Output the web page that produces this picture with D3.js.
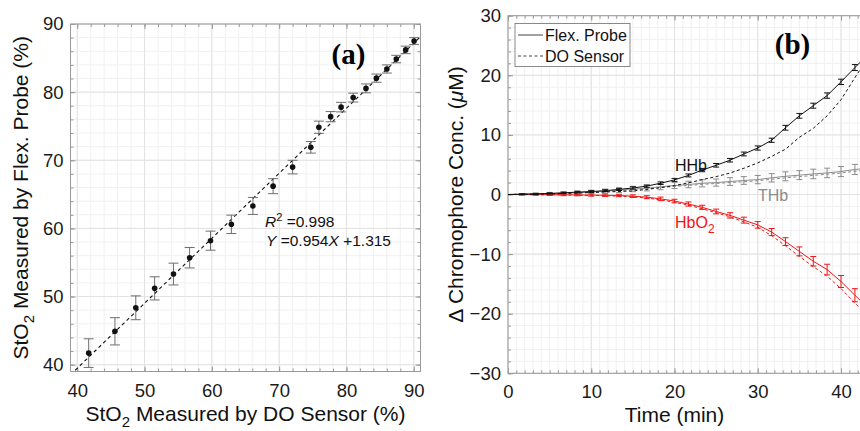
<!DOCTYPE html>
<html>
<head>
<meta charset="utf-8">
<script src="https://cdn.jsdelivr.net/npm/d3@7"></script>
<style>
  body { margin: 0; background: #fff; }
  svg { display: block; font-family: 'Liberation Sans', Arial, sans-serif; }
</style>
</head>
<body>
<script>
// ---- panel (a): StO2, probe vs sensor ----
var sto2Sensor = [41.7, 45.6, 48.7, 51.5, 54.3, 56.7, 59.8, 62.9, 66.1, 69.1, 72.0, 74.7, 75.9, 77.65, 79.2, 81.0, 82.9, 84.45, 86.0, 87.4, 88.8, 90.05];
var sto2Probe = [41.7, 44.9, 48.35, 51.2, 53.3, 55.7, 58.2, 60.6, 63.3, 66.2, 69.0, 71.9, 74.85, 76.4, 77.8, 79.2, 80.55, 82.05, 83.4, 84.85, 86.2, 87.5];
var sto2Err = [2.1, 2.0, 1.75, 1.7, 1.6, 1.5, 1.4, 1.35, 1.25, 1.1, 1.0, 0.85, 0.9, 0.75, 0.7, 0.65, 0.65, 0.6, 0.6, 0.55, 0.55, 0.5];
var fitSlope = 0.954, fitIntercept = 1.315;
var fitSpan = [39, 91];
var sto2Ticks = [40, 50, 60, 70, 80, 90];

// ---- panel (b): chromophore changes over time ----
var timeMin = [0, 1.67, 3.33, 5, 6.67, 8.33, 10, 11.67, 13.33, 15, 16.67, 18.33, 20, 21.67, 23.33, 25, 26.67, 28.33, 30, 31.67, 33.33, 35, 36.67, 38.33, 40, 41.67, 43.33];
var hhbProbe = [0, 0.05, 0.1, 0.18, 0.28, 0.4, 0.5, 0.65, 0.85, 1.1, 1.4, 1.9, 2.45, 3.2, 4.1, 4.9, 5.75, 6.8, 7.8, 9.1, 11.2, 13.2, 14.9, 16.6, 18.9, 21.3, 23.6];
var hhbErr = [0, 0.05, 0.08, 0.1, 0.1, 0.12, 0.15, 0.15, 0.18, 0.2, 0.2, 0.22, 0.25, 0.25, 0.28, 0.3, 0.3, 0.32, 0.35, 0.35, 0.4, 0.4, 0.42, 0.45, 0.45, 0.5, 0.5];
var hhbSensor = [0, 0.03, 0.07, 0.12, 0.18, 0.25, 0.33, 0.42, 0.5, 0.6, 0.85, 1.15, 1.5, 1.95, 2.5, 3.0, 3.6, 4.4, 5.3, 6.4, 7.6, 9.6, 11.1, 13.2, 15.9, 19.6, 23.2];
var thbProbe = [0, 0.05, 0.1, 0.15, 0.22, 0.3, 0.42, 0.57, 0.72, 0.92, 1.05, 1.3, 1.5, 1.68, 1.88, 2.0, 2.18, 2.35, 2.5, 2.8, 3.05, 3.25, 3.45, 3.62, 3.85, 4.2, 4.4];
var thbErr = [0, 0.1, 0.15, 0.2, 0.25, 0.3, 0.3, 0.35, 0.4, 0.45, 0.45, 0.5, 0.5, 0.55, 0.6, 0.6, 0.65, 0.65, 0.7, 0.7, 0.75, 0.75, 0.8, 0.8, 0.85, 0.85, 0.9];
var thbSensor = [0, 0.04, 0.08, 0.12, 0.18, 0.25, 0.35, 0.48, 0.62, 0.8, 0.95, 1.15, 1.35, 1.52, 1.7, 1.85, 2.0, 2.15, 2.3, 2.55, 2.8, 3.0, 3.2, 3.4, 3.6, 3.9, 4.1];
var hbo2Probe = [0, -0.01, -0.02, -0.03, -0.05, -0.07, -0.1, -0.13, -0.17, -0.28, -0.45, -0.73, -1.1, -1.6, -2.15, -2.85, -3.5, -4.3, -5.1, -6.3, -7.9, -9.55, -11.2, -12.6, -14.6, -16.9, -19.2];
var hbo2Err = [0, 0.1, 0.1, 0.12, 0.15, 0.15, 0.18, 0.2, 0.2, 0.22, 0.25, 0.3, 0.3, 0.35, 0.35, 0.4, 0.45, 0.5, 0.55, 0.6, 0.65, 0.75, 0.8, 0.9, 1.0, 1.1, 1.2];
var hbo2Sensor = [0, -0.02, -0.04, -0.06, -0.09, -0.12, -0.16, -0.21, -0.28, -0.4, -0.6, -0.9, -1.3, -1.8, -2.4, -3.05, -3.75, -4.6, -5.5, -6.9, -8.6, -10.4, -12.1, -13.7, -15.8, -18.2, -20.5];
var timeTicks = [0, 10, 20, 30, 40];
var concTicks = [-30, -20, -10, 0, 10, 20, 30];

var svgWidth = 860, svgHeight = 431;
var boxColor = '#9a9a9a', majorGrid = '#e2e2e2', minorGrid = '#f0f0f0';

var svg = d3.select('body')
    .append('svg')
    .attr('width', svgWidth)
    .attr('height', svgHeight);

// draws grid, inward ticks and the box for one panel
function drawFrame(g, x, y, minorX, minorY, xTicks, yTicks, fmt) {
    var x0 = x.range()[0], x1 = x.range()[1];
    var y0 = y.range()[0], y1 = y.range()[1];

    g.append('g').selectAll('line').data(minorX).enter().append('line')
        .attr('x1', d => x(d)).attr('x2', d => x(d)).attr('y1', y0).attr('y2', y1)
        .attr('stroke', minorGrid);
    g.append('g').selectAll('line').data(minorY).enter().append('line')
        .attr('y1', d => y(d)).attr('y2', d => y(d)).attr('x1', x0).attr('x2', x1)
        .attr('stroke', minorGrid);
    g.append('g').selectAll('line').data(xTicks).enter().append('line')
        .attr('x1', d => x(d)).attr('x2', d => x(d)).attr('y1', y0).attr('y2', y1)
        .attr('stroke', majorGrid);
    g.append('g').selectAll('line').data(yTicks).enter().append('line')
        .attr('y1', d => y(d)).attr('y2', d => y(d)).attr('x1', x0).attr('x2', x1)
        .attr('stroke', majorGrid);

    // minor + major ticks on all four sides, pointing in
    [[d3.axisBottom, y0], [d3.axisTop, y1]].forEach(function (s) {
        g.append('g').attr('class', 'ticks')
            .attr('transform', `translate(0, ${ s[1] })`)
            .call(s[0](x).tickValues(minorX).tickSize(-3).tickSizeOuter(0).tickFormat(''));
        g.append('g').attr('class', 'ticks')
            .attr('transform', `translate(0, ${ s[1] })`)
            .call(s[0](x).tickValues(xTicks).tickSize(-5).tickSizeOuter(0).tickFormat(''));
    });
    [[d3.axisLeft, x0], [d3.axisRight, x1]].forEach(function (s) {
        g.append('g').attr('class', 'ticks')
            .attr('transform', `translate(${ s[1] }, 0)`)
            .call(s[0](y).tickValues(minorY).tickSize(-3).tickSizeOuter(0).tickFormat(''));
        g.append('g').attr('class', 'ticks')
            .attr('transform', `translate(${ s[1] }, 0)`)
            .call(s[0](y).tickValues(yTicks).tickSize(-5).tickSizeOuter(0).tickFormat(''));
    });
    g.selectAll('.ticks .domain').remove();
    g.selectAll('.ticks line').attr('stroke', boxColor);

    // tick labels
    g.append('g').attr('class', 'lbl')
        .attr('transform', `translate(0, ${ y0 })`)
        .call(d3.axisBottom(x).tickValues(xTicks).tickSize(0).tickPadding(12).tickFormat(fmt));
    g.append('g').attr('class', 'lbl')
        .attr('transform', `translate(${ x0 }, 0)`)
        .call(d3.axisLeft(y).tickValues(yTicks).tickSize(0).tickPadding(7).tickFormat(fmt));
    g.selectAll('.lbl .domain').remove();
    g.selectAll('.lbl text')
        .attr('font-family', "'Liberation Sans', Arial, sans-serif")
        .attr('font-size', 18.5)
        .attr('fill', '#1a1a1a');

    g.append('rect')
        .attr('x', x0).attr('y', y1)
        .attr('width', x1 - x0).attr('height', y0 - y1)
        .attr('fill', 'none')
        .attr('stroke', boxColor);
}

var minusFmt = d => d < 0 ? '\u2212' + Math.abs(d) : String(d);

// ================= panel (a) =================
var xA = d3.scaleLinear().domain([39, 91]).range([70.5, 420.5]);
var yA = d3.scaleLinear().domain([39, 90]).range([371.5, 24]);
var gA = svg.append('g');

drawFrame(gA, xA, yA, d3.range(40, 91, 2), d3.range(40, 91, 2), sto2Ticks, sto2Ticks, minusFmt);

svg.append('clipPath').attr('id', 'clip-a')
    .append('rect').attr('x', 70.5).attr('y', 24).attr('width', 350).attr('height', 347.5);

gA.append('line')
    .attr('clip-path', 'url(#clip-a)')
    .attr('x1', xA(fitSpan[0])).attr('y1', yA(fitSlope * fitSpan[0] + fitIntercept))
    .attr('x2', xA(fitSpan[1])).attr('y2', yA(fitSlope * fitSpan[1] + fitIntercept))
    .attr('stroke', '#111')
    .attr('stroke-width', 1.1)
    .attr('stroke-dasharray', '3.5,3');

var ptsA = sto2Sensor.map((d, i) => [d, sto2Probe[i], sto2Err[i]]);
var barA = gA.append('g').selectAll('g').data(ptsA).enter().append('g')
    .attr('stroke', '#6e6e6e').attr('stroke-width', 1);
barA.append('line')
    .attr('x1', d => xA(d[0])).attr('x2', d => xA(d[0]))
    .attr('y1', d => yA(d[1] - d[2])).attr('y2', d => yA(d[1] + d[2]));
barA.append('line')
    .attr('x1', d => xA(d[0]) - 5).attr('x2', d => xA(d[0]) + 5)
    .attr('y1', d => yA(d[1] - d[2])).attr('y2', d => yA(d[1] - d[2]));
barA.append('line')
    .attr('x1', d => xA(d[0]) - 5).attr('x2', d => xA(d[0]) + 5)
    .attr('y1', d => yA(d[1] + d[2])).attr('y2', d => yA(d[1] + d[2]));

gA.append('g').selectAll('circle').data(ptsA).enter().append('circle')
    .attr('cx', d => xA(d[0]))
    .attr('cy', d => yA(d[1]))
    .attr('r', 2.8)
    .attr('fill', '#111');

// fit text
var fitText = gA.append('g').attr('font-size', 15.5).attr('fill', '#111');
var t1 = fitText.append('text').attr('x', 265).attr('y', 227);
t1.append('tspan').attr('font-style', 'italic').text('R');
t1.append('tspan').attr('dy', -6).attr('font-size', 11).text('2');
t1.append('tspan').attr('dy', 6).text(' =0.998');
var t2 = fitText.append('text').attr('x', 266).attr('y', 246);
t2.append('tspan').attr('font-style', 'italic').text('Y');
t2.append('tspan').text(' =0.954');
t2.append('tspan').attr('font-style', 'italic').text('X');
t2.append('tspan').text(' +1.315');

gA.append('text')
    .attr('x', 348.5).attr('y', 64)
    .attr('text-anchor', 'middle')
    .attr('font-family', "'Liberation Serif', 'Times New Roman', serif")
    .attr('font-weight', 'bold')
    .attr('font-size', 29)
    .text('(a)');

// axis titles (a)
var xtA = gA.append('text')
    .attr('x', xA(65)).attr('y', 421)
    .attr('text-anchor', 'middle')
    .attr('font-size', 21)
    .attr('fill', '#111');
xtA.append('tspan').text('StO');
xtA.append('tspan').attr('dy', 6).attr('font-size', 15).text('2');
xtA.append('tspan').attr('dy', -6).text(' Measured by DO Sensor (%)');

var ytA = gA.append('text')
    .attr('transform', `translate(28, ${ (24 + 371.5) / 2 }) rotate(-90)`)
    .attr('text-anchor', 'middle')
    .attr('font-size', 21)
    .attr('fill', '#111');
ytA.append('tspan').text('StO');
ytA.append('tspan').attr('dy', 6).attr('font-size', 15).text('2');
ytA.append('tspan').attr('dy', -6).text(' Measured by Flex. Probe (%)');

// ================= panel (b) =================
var xB = d3.scaleLinear().domain([0, 45]).range([508, 508 + 45 * 8.325]);
var yB = d3.scaleLinear().domain([-30, 30]).range([373.3, 15.7]);
var gB = svg.append('g');

drawFrame(gB, xB, yB, d3.range(0, 46, 1), d3.range(-30, 31, 2), timeTicks, concTicks, minusFmt);

svg.append('clipPath').attr('id', 'clip-b')
    .append('rect').attr('x', 508).attr('y', 15.7).attr('width', 45 * 8.325).attr('height', 373.3 - 15.7);

var lineB = d3.line()
    .x(d => xB(d[0]))
    .y(d => yB(d[1]));

var series = [
    { probe: thbProbe, err: thbErr, sensor: thbSensor, color: '#8c8c8c' },
    { probe: hbo2Probe, err: hbo2Err, sensor: hbo2Sensor, color: '#f01414' },
    { probe: hhbProbe, err: hhbErr, sensor: hhbSensor, color: '#111111' }
];

var plotB = gB.append('g').attr('clip-path', 'url(#clip-b)');

series.forEach(function (s) {
    var probe = timeMin.map((t, i) => [t, s.probe[i], s.err[i]]);
    var sensor = timeMin.map((t, i) => [t, s.sensor[i]]);

    plotB.append('path')
        .datum(sensor)
        .attr('d', lineB)
        .attr('fill', 'none')
        .attr('stroke', s.color)
        .attr('stroke-width', 1)
        .attr('stroke-dasharray', '3,2.5');

    plotB.append('path')
        .datum(probe)
        .attr('d', lineB)
        .attr('fill', 'none')
        .attr('stroke', s.color)
        .attr('stroke-width', 1);

    var bars = plotB.append('g').selectAll('g').data(probe.slice(1)).enter().append('g')
        .attr('stroke', s.color).attr('stroke-width', 1);
    bars.append('line')
        .attr('x1', d => xB(d[0])).attr('x2', d => xB(d[0]))
        .attr('y1', d => yB(d[1] - d[2])).attr('y2', d => yB(d[1] + d[2]));
    bars.append('line')
        .attr('x1', d => xB(d[0]) - 3).attr('x2', d => xB(d[0]) + 3)
        .attr('y1', d => yB(d[1] - d[2])).attr('y2', d => yB(d[1] - d[2]));
    bars.append('line')
        .attr('x1', d => xB(d[0]) - 3).attr('x2', d => xB(d[0]) + 3)
        .attr('y1', d => yB(d[1] + d[2])).attr('y2', d => yB(d[1] + d[2]));
});

// curve labels
gB.append('text').attr('x', 675).attr('y', 171).attr('font-size', 16).attr('fill', '#111').text('HHb');
gB.append('text').attr('x', 758).attr('y', 201).attr('font-size', 16).attr('fill', '#8c8c8c').text('THb');
var hbo2Lbl = gB.append('text').attr('x', 675).attr('y', 228).attr('font-size', 16).attr('fill', '#f01414');
hbo2Lbl.append('tspan').text('HbO');
hbo2Lbl.append('tspan').attr('dy', 5).attr('font-size', 12).text('2');

// legend
var legend = gB.append('g');
legend.append('rect')
    .attr('x', 515).attr('y', 23.5).attr('width', 115).attr('height', 43)
    .attr('fill', '#fff').attr('stroke', '#8a8a8a');
legend.append('line')
    .attr('x1', 518).attr('x2', 543).attr('y1', 35).attr('y2', 35)
    .attr('stroke', '#444');
legend.append('line')
    .attr('x1', 518).attr('x2', 543).attr('y1', 56).attr('y2', 56)
    .attr('stroke', '#444').attr('stroke-dasharray', '3,2.5');
legend.append('text').attr('x', 545).attr('y', 40.5).attr('font-size', 16).attr('fill', '#111').text('Flex. Probe');
legend.append('text').attr('x', 545).attr('y', 61.5).attr('font-size', 16).attr('fill', '#111').text('DO Sensor');

gB.append('text')
    .attr('x', 792.5).attr('y', 54)
    .attr('text-anchor', 'middle')
    .attr('font-family', "'Liberation Serif', 'Times New Roman', serif")
    .attr('font-weight', 'bold')
    .attr('font-size', 29)
    .text('(b)');

// axis titles (b)
gB.append('text')
    .attr('x', xB(20)).attr('y', 422)
    .attr('text-anchor', 'middle')
    .attr('font-size', 21)
    .attr('fill', '#111')
    .text('Time (min)');

var ytB = gB.append('text')
    .attr('transform', `translate(463, ${ (15.7 + 373.3) / 2 }) rotate(-90)`)
    .attr('text-anchor', 'middle')
    .attr('font-size', 21)
    .attr('fill', '#111');
ytB.append('tspan').text('\u0394 Chromophore Conc. (');
ytB.append('tspan').attr('font-style', 'italic').text('\u03bc');
ytB.append('tspan').text('M)');
</script>
</body>
</html>
